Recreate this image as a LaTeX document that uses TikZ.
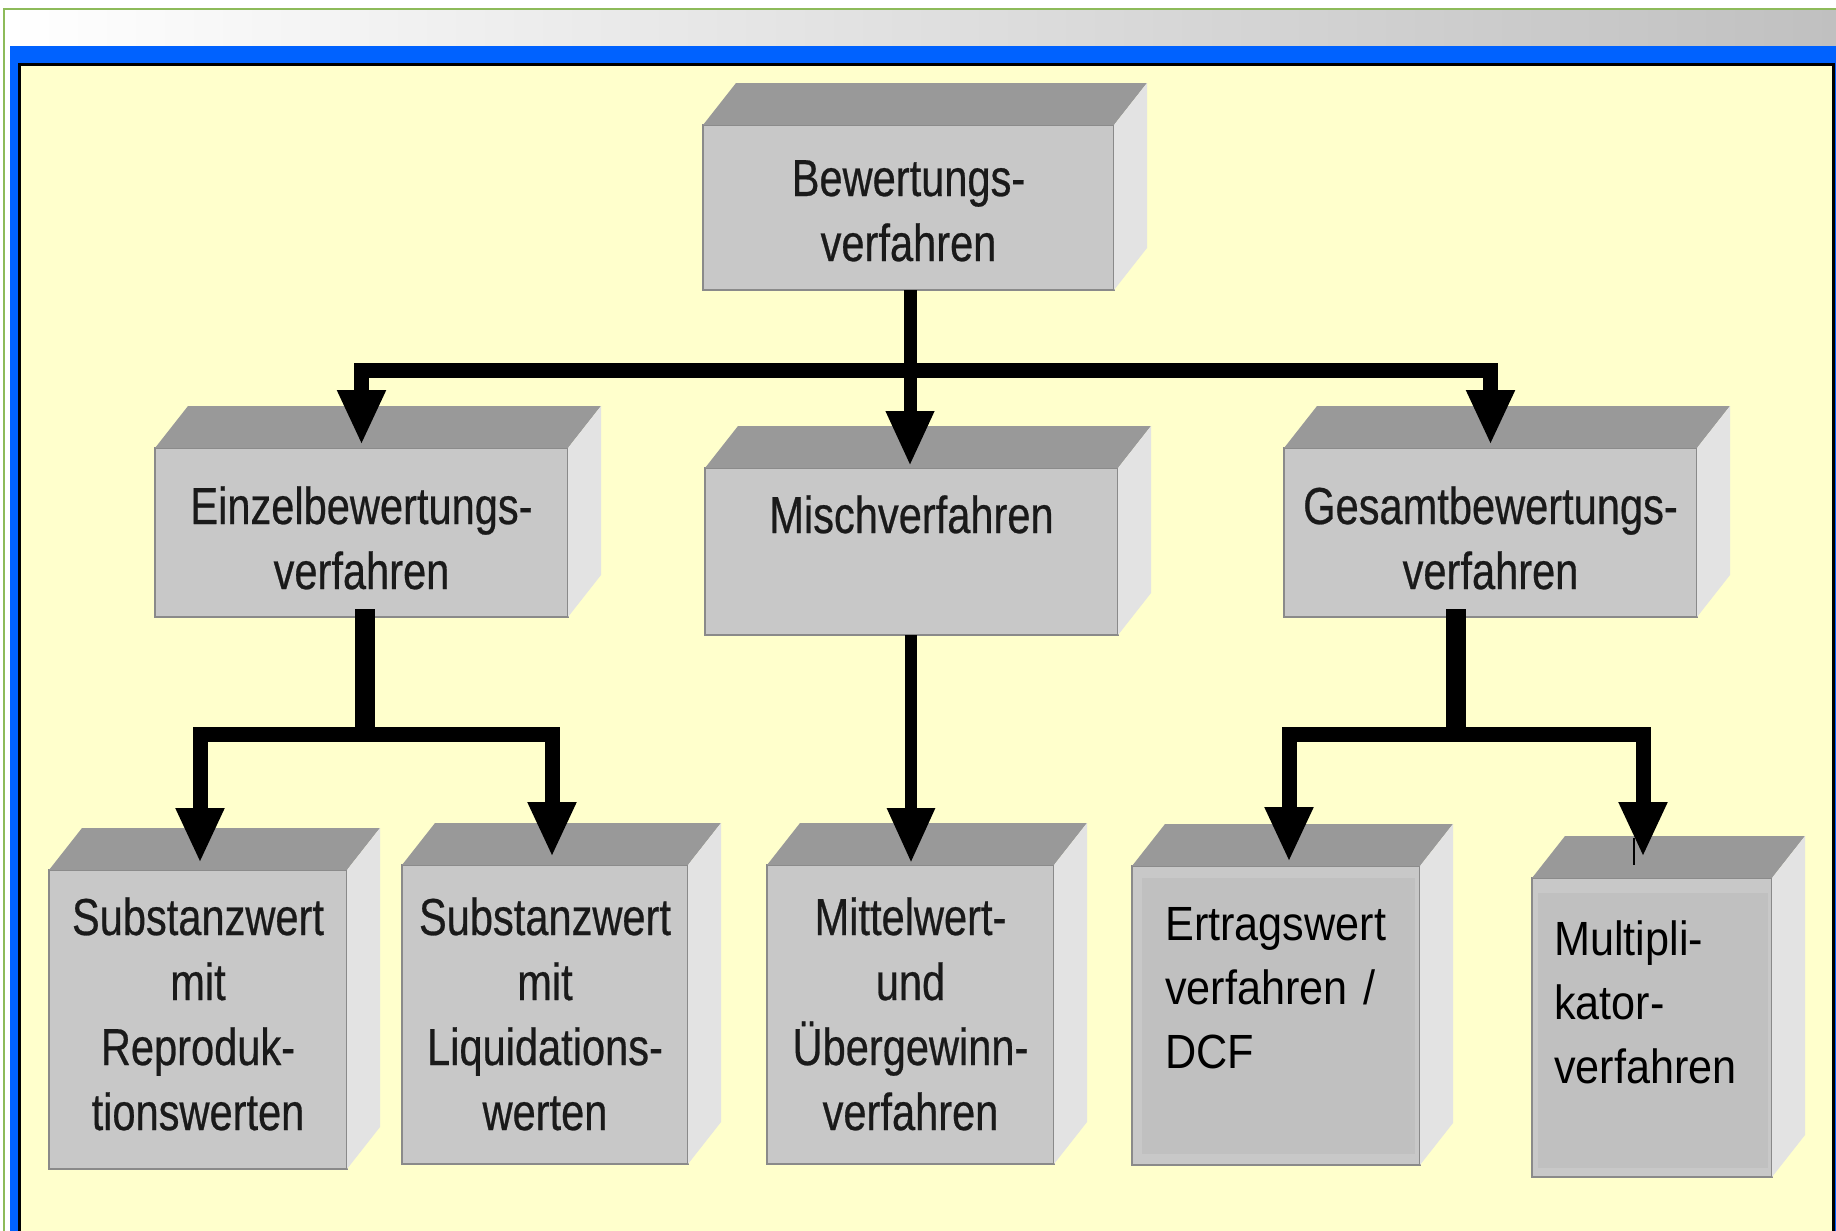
\documentclass[tikz,border=0pt]{standalone}
\usepackage{fontspec}
\setmainfont{Liberation Sans}
\newfontfamily\boxfont{Liberation Sans}[FakeStretch=0.8,FakeBold=0.5]
\newfontfamily\ertfont{Liberation Sans}[FakeStretch=0.9]
\usetikzlibrary{arrows.meta,calc}
\definecolor{bgyellow}{HTML}{FFFFCC}
\definecolor{frameblue}{HTML}{0062FF}
\definecolor{framegreen}{HTML}{8DBB5A}
\definecolor{gradgray}{HTML}{C0C0C0}
\definecolor{facefront}{HTML}{C8C8C8}
\definecolor{facetop}{HTML}{999999}
\definecolor{faceside}{HTML}{E3E3E3}
\definecolor{faceedge}{HTML}{8A8A8A}
\definecolor{faceinner}{HTML}{C0C0C0}
\definecolor{textdark}{HTML}{1A1A1A}
\tikzset{
  boxface/.style={draw=faceedge, line width=2pt, fill=facefront, inner sep=0pt, outer sep=0pt},
  lbl/.style={font=\boxfont\fontsize{52}{65}\selectfont, text=textdark, inner sep=0pt, align=center, anchor=base},
  lbll/.style={font=\ertfont\fontsize{48}{64}\selectfont, text=black, inner sep=0pt, align=left, anchor=base west},
  conn/.style={line width=15pt, line join=miter, draw=black},
  arrowend/.style={-{Triangle[width=45pt,length=55pt]}},
  arrowboth/.style={{Triangle[width=45pt,length=55pt]}-{Triangle[width=45pt,length=55pt]}},
}
\newcommand\cuboidfaces[1]{%
  \fill[facetop] (#1.north west) -- ++(33,-42) -- ($(#1.north east)+(33,-42)$) -- (#1.north east) -- cycle;
  \fill[faceside] (#1.north east) -- ++(33,-42) -- ($(#1.south east)+(33,-42)$) -- (#1.south east) -- cycle;
}
\begin{document}
\begin{tikzpicture}[x=1pt,y=-1pt]
\useasboundingbox (0,0) rectangle (1836,1231);
\clip (0,0) rectangle (1836,1231);
% frame
\fill[white] (0,0) rectangle (1836,1231);
\shade[left color=white, right color=gradgray] (5,10) rectangle (1836,46);
\draw[framegreen, line width=2pt] (4,1240) -- (4,9) -- (1840,9);
\fill[frameblue] (10,46) rectangle (1836,1231);
\draw[black, line width=3pt] (19,1240) -- (19,64.5) -- (1833,64.5) -- (1833,1240);
\fill[bgyellow] (20.5,66) rectangle (1831.5,1231);

% boxes
\node[boxface, minimum width=411pt, minimum height=165pt] (B) at (908.5,207.5) {};
\cuboidfaces{B}
\node[boxface, minimum width=413pt, minimum height=169pt] (E) at (361.5,532.5) {};
\cuboidfaces{E}
\node[boxface, minimum width=413pt, minimum height=167pt] (M) at (911.5,551.5) {};
\cuboidfaces{M}
\node[boxface, minimum width=413pt, minimum height=169pt] (G) at (1490.5,532.5) {};
\cuboidfaces{G}
\node[boxface, minimum width=298pt, minimum height=299pt] (S1) at (198,1019.5) {};
\cuboidfaces{S1}
\node[boxface, minimum width=286pt, minimum height=299pt] (S2) at (545,1014.5) {};
\cuboidfaces{S2}
\node[boxface, minimum width=287pt, minimum height=299pt] (MW) at (910.5,1014.5) {};
\cuboidfaces{MW}
\node[boxface, minimum width=288pt, minimum height=299pt] (ER) at (1276,1015.5) {};
\cuboidfaces{ER}
\fill[faceinner] ($(ER.north west)+(10,12)$) rectangle ($(ER.south east)+(-5,-11)$);
\node[boxface, minimum width=240pt, minimum height=299pt] (MU) at (1652,1027.5) {};
\cuboidfaces{MU}
\fill[faceinner] ($(MU.north west)+(6,15)$) rectangle ($(MU.south east)+(-4,-9)$);

% texts
\node[lbl, text width=400pt] (Bt) at (908.5,196) {Bewertungs-\\verfahren};
\node[lbl, text width=405pt] (Et) at (361.5,524) {Einzelbewertungs-\\verfahren};
\node[lbl, text width=405pt] (Mt) at (911.5,533) {Mischverfahren};
\node[lbl, text width=405pt] (Gt) at (1490.5,524) {Gesamtbewertungs-\\verfahren};
\node[lbl, text width=290pt] (S1t) at (198,935) {Substanzwert\\mit\\Reproduk-\\tionswerten};
\node[lbl, text width=280pt] (S2t) at (545,935) {Substanzwert\\mit\\Liquidations-\\werten};
\node[lbl, text width=280pt] (MWt) at (910.5,935) {Mittelwert-\\und\\Übergewinn-\\verfahren};
\node[lbll, text width=250pt] (ERt) at (1165,940) {Ertragswert\\verfahren /\\DCF};
\node[lbll, text width=210pt] (MUt) at (1554,955) {Multipli-\\kator-\\verfahren};

% connectors
\coordinate (jB) at (910,370);
\draw[conn, line width=13pt, arrowend] ([xshift=1.5pt]B.south) -- ([xshift=-1.5pt,yshift=2pt]M.north);
\draw[conn, arrowboth] ([yshift=3pt]E.north) |- (jB) -| ([yshift=3pt]G.north);

\coordinate (jE) at (365,734);
\draw[conn, line width=20pt] ([xshift=3.5pt,yshift=8pt]E.south) -- ([yshift=-8pt]jE);
\draw[conn, arrowboth] ([xshift=2pt,yshift=7pt]S1.north) |- (jE) -| ([xshift=7pt,yshift=8pt]S2.north);

\draw[conn, line width=12pt, arrowend] ([xshift=-0.5pt]M.south) -- ([xshift=0.5pt,yshift=2pt]MW.north);

\coordinate (jG) at (1456,734);
\draw[conn, line width=20pt] ([xshift=-34.5pt,yshift=8pt]G.south) -- ([yshift=-8pt]jG);
\draw[conn, arrowboth] ([xshift=13pt,yshift=4pt]ER.north) |- (jG) -| ([xshift=-9pt,yshift=21pt]MU.north);
\draw[black, line width=2pt] ([xshift=-18pt,yshift=40pt]MU.north) -- ([xshift=-18pt,yshift=13pt]MU.north);
\end{tikzpicture}
\end{document}
